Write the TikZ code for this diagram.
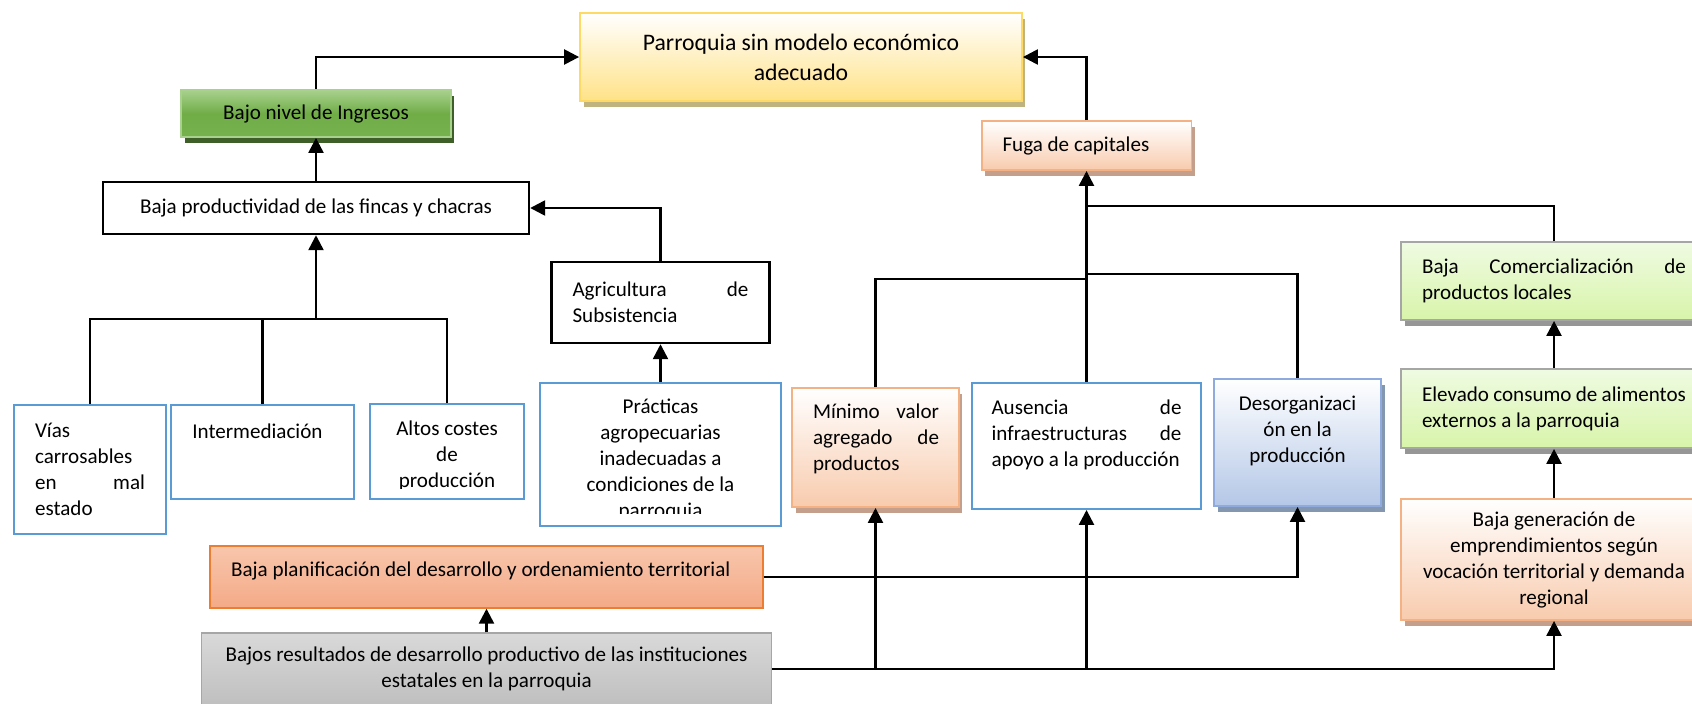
\documentclass[tikz,border=0pt]{standalone}
\usepackage{fontspec}
\setmainfont{Carlito}
\usetikzlibrary{arrows.meta,positioning,shadows}
\definecolor{cblue}{RGB}{91,155,213}
\definecolor{pardraw}{RGB}{255,217,102}
\definecolor{parfill}{RGB}{255,226,135}
\definecolor{parshadow}{RGB}{191,180,128}
\definecolor{ingdraw}{RGB}{169,209,142}
\definecolor{ingtop}{RGB}{169,209,142}
\definecolor{ingmid}{RGB}{112,173,71}
\definecolor{ingbot}{RGB}{118,178,78}
\definecolor{ingshadow}{RGB}{62,95,40}
\definecolor{peachdraw}{RGB}{244,177,131}
\definecolor{peachfill}{RGB}{248,203,173}
\definecolor{peachshadow}{RGB}{196,160,140}
\definecolor{desdraw}{RGB}{143,170,220}
\definecolor{desfill}{RGB}{180,199,231}
\definecolor{desshadow}{RGB}{132,151,176}
\definecolor{graydraw}{RGB}{166,166,166}
\definecolor{grayshadow}{RGB}{150,150,150}
\definecolor{comtop}{RGB}{239,251,226}
\definecolor{combot}{RGB}{216,244,170}
\definecolor{plandraw}{RGB}{237,125,49}
\definecolor{plantop}{RGB}{248,198,172}
\definecolor{planbot}{RGB}{244,170,135}
\definecolor{brestop}{RGB}{217,217,217}
\definecolor{bresbot}{RGB}{191,191,191}

\begin{document}
\begin{tikzpicture}[
  x=0.02cm, y=-0.02cm,
  box/.style={
    rectangle, inner sep=0pt,
    font=\fontsize{12}{14.8}\selectfont,
    align=center
  },
  plainbox/.style={box, draw=black, line width=1.4pt, fill=white},
  bluebox/.style={box, draw=cblue, line width=1.1pt, fill=white},
  shadowbox/.style={box, line width=1.1pt,
    drop shadow={shadow xshift=0.07cm, shadow yshift=-0.12cm, fill=#1, opacity=1}},
  peachbox/.style={shadowbox=peachshadow, draw=peachdraw, top color=white, bottom color=peachfill},
  greenbox/.style={shadowbox=grayshadow, draw=graydraw, top color=comtop, bottom color=combot},
  txt/.style={inner sep=0pt, font=\fontsize{12}{14.8}\selectfont},
  conn/.style={-{Triangle[length=0.3cm, width=0.3cm]}, line width=1.4pt},
  link/.style={line width=1.4pt}
]
\useasboundingbox (0,0) rectangle (1692,703);
\fill[white] (0,0) rectangle (1692,703);

% top row
\node[shadowbox=parshadow, draw=pardraw, top color=white, bottom color=parfill,
  minimum width=8.84cm, minimum height=1.76cm,
  font=\fontsize{13.5}{17}\selectfont] (par) at (801,57)
  {Parroquia sin modelo económico\\adecuado};
\node[shadowbox=ingshadow, draw=ingdraw, top color=ingtop, bottom color=ingbot, middle color=ingmid,
  minimum width=5.4cm, minimum height=0.94cm] (ing) at (316,113.5) {Bajo nivel de Ingresos};
\node[plainbox, minimum width=8.52cm, minimum height=1.04cm] (prod) at (316,208)
  {Baja productividad de las fincas y chacras};
\node[peachbox, minimum width=4.2cm, minimum height=0.98cm, text width=3.36cm, align=flush left]
  (fuga) at (1086.5,145.5) {Fuga de capitales};

% left branch
\node[bluebox, minimum width=3.04cm, minimum height=2.58cm, text width=2.2cm, align=flush left]
  (vias) at (90,469.5) {Vías\\carrosables\\en\hfill mal\\estado};
\node[bluebox, minimum width=3.66cm, minimum height=1.88cm] (inter) at (262.5,452) {};
\node[txt, anchor=west] (intertxt) at (192,431) {Intermediación};
\node[bluebox, minimum width=3.08cm, minimum height=1.9cm] (altos) at (447,451.5) {};
\begin{scope}
  \clip (370,404) rectangle (524,488);
  \node[txt, align=center] (altostxt) at (447,456) {Altos costes\\de\\producción};
\end{scope}
\node[plainbox, minimum width=4.36cm, minimum height=1.62cm, text width=3.52cm, align=flush left]
  (agri) at (660.5,302.5) {Agricultura\hfill de\\Subsistencia};
\node[bluebox, minimum width=4.82cm, minimum height=2.86cm] (prac) at (660.5,454.5) {};
\begin{scope}
  \clip (540,383) rectangle (781,513);
  \node[txt, align=center] (practxt) at (660.5,459.5)
    {Prácticas\\agropecuarias\\inadecuadas a\\condiciones de la\\parroquia};
\end{scope}

% middle branch
\node[peachbox, minimum width=3.34cm, minimum height=2.38cm] (minimo) at (875.5,447.5) {};
\node[txt, text width=2.52cm, align=flush left] (minimotxt) at (876,439)
  {Mínimo\hfill valor\\agregado\hfill de\\productos};
\node[bluebox, minimum width=4.58cm, minimum height=2.52cm] (aus) at (1086.5,446) {};
\node[txt, text width=3.8cm, align=flush left] (austxt) at (1086.5,434.5)
  {Ausencia\hfill de\\infraestructuras\hfill de\\apoyo a la producción};
\node[shadowbox=desshadow, draw=desdraw, top color=white, bottom color=desfill,
  minimum width=3.34cm, minimum height=2.54cm] (des) at (1297.5,442.5) {};
\node[txt, align=center] (destxt) at (1297.5,431) {Desorganizaci\\ón en la\\producción};

% right branch
\node[greenbox, minimum width=6.12cm, minimum height=1.56cm, text width=5.28cm, align=flush left]
  (com) at (1554,281) {Baja\hfill Comercialización\hfill de\\productos locales};
\node[greenbox, minimum width=6.12cm, minimum height=1.58cm, text width=5.28cm, align=flush left]
  (elev) at (1554,408.5) {Elevado consumo de alimentos\\externos a la parroquia};
\node[peachbox, minimum width=6.12cm, minimum height=2.42cm] (bgen) at (1554,559.5)
  {Baja generación de\\emprendimientos según\\vocación territorial y demanda\\regional};

% bottom
\node[box, draw=plandraw, line width=0.8pt, top color=plantop, bottom color=planbot,
  minimum width=11.06cm, minimum height=1.24cm, text width=10.22cm, align=flush left,
  text depth=0.3cm] (bplan) at (486.5,577)
  {Baja planificación del desarrollo y ordenamiento territorial};
\node[box, draw=graydraw, line width=0.8pt, top color=brestop, bottom color=bresbot,
  minimum width=11.4cm, minimum height=1.44cm] (bres) at (486.5,669)
  {Bajos resultados de desarrollo productivo de las instituciones\\estatales en la parroquia};

% connectors
\draw[conn] (ing.north) |- (par.west);
\draw[conn] (fuga.north) |- (par.east);
\draw[conn] (prod.north) -- (ing.south);
\coordinate (jprod) at (316,319);
\draw[link] (vias.north) |- (jprod);
\draw[link] (altos.north) |- (jprod);
\draw[link] (inter.north) -- (inter.north |- jprod);
\draw[conn] (jprod) -- (prod.south);
\draw[conn] (agri.north) |- (prod.east);
\draw[conn] (prac.north) -- (agri.south);

\coordinate (jmin) at (1086.5,279);
\coordinate (jdes) at (1086.5,274);
\coordinate (jcom) at (1086.5,206);
\draw[conn] (aus.north) -- (fuga.south);
\draw[link] (minimo.north) |- (jmin);
\draw[link] (des.north) |- (jdes);
\draw[link] (com.north) |- (jcom);
\draw[conn] (elev.north) -- (com.south);
\draw[conn] (bgen.north) -- (elev.south);

\draw[conn] (bres.north) -- (bplan.south);
\draw[conn] (bplan.east) -| (des.south);
\draw[conn] (bres.east) -| (bgen.south);
\coordinate (jbmin) at (minimo.south |- bres.east);
\coordinate (jbaus) at (aus.south |- bres.east);
\draw[conn] (jbmin) -- (minimo.south);
\draw[conn] (jbaus) -- (aus.south);
\end{tikzpicture}
\end{document}
